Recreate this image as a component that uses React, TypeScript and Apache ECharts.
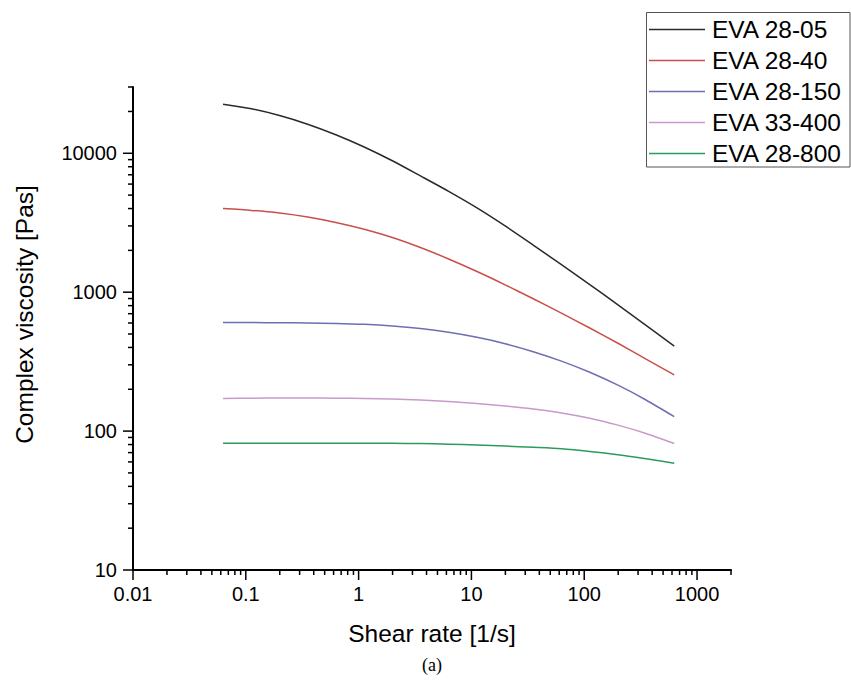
import React, { useEffect, useRef } from "react";
import * as echarts from "echarts";

const shearRates = [0.0628, 0.112, 0.199, 0.353, 0.628, 1.12, 1.99, 3.53, 6.28, 11.2, 19.9, 35.3, 62.8, 112, 199, 353, 628];
const eva2805 = [22500, 20900, 18700, 16200, 13600, 11100, 8830, 6870, 5320, 4046, 3000, 2185, 1580, 1134, 810, 577, 409];
const eva2840 = [4000, 3880, 3710, 3475, 3177, 2838, 2477, 2097, 1734, 1409, 1130, 897, 706, 552, 429, 330, 254];
const eva28150 = [604, 604, 603, 600, 596, 587, 571, 547, 514, 473, 426, 373, 319, 265, 214, 167.5, 127];
const eva33400 = [172, 172.6, 173, 173, 172.6, 171.8, 170.2, 167.5, 163.3, 158.1, 151.7, 144.2, 135.2, 123.9, 110.4, 96.2, 81.5];
const eva28800 = [81.7, 81.7, 81.7, 81.8, 81.8, 81.8, 81.7, 81.3, 80.5, 79.4, 78.0, 76.4, 74.6, 71.4, 67.6, 63.2, 58.6];

const seriesNames = ["EVA 28-05", "EVA 28-40", "EVA 28-150", "EVA 33-400", "EVA 28-800"];
const seriesColors = ["#2a2a2a", "#c9504a", "#6e6eb2", "#c99ac9", "#2f9a5a"];

const xMajorTicks = [0.01, 0.1, 1, 10, 100, 1000];
const xMinorTicks = [
  0.02, 0.03, 0.04, 0.05, 0.06, 0.07, 0.08, 0.09,
  0.2, 0.3, 0.4, 0.5, 0.6, 0.7, 0.8, 0.9,
  2, 3, 4, 5, 6, 7, 8, 9,
  20, 30, 40, 50, 60, 70, 80, 90,
  200, 300, 400, 500, 600, 700, 800, 900,
  2000,
];
const yMajorTicks = [10, 100, 1000, 10000];
const yMinorTicks = [
  20, 30, 40, 50, 60, 70, 80, 90,
  200, 300, 400, 500, 600, 700, 800, 900,
  2000, 3000, 4000, 5000, 6000, 7000, 8000, 9000,
  20000, 30000,
];

const X_MIN = 0.01;
const X_MAX = 2000;
const Y_MIN = 10;
const Y_MAX = 30000;

const MAJOR_LEN = 10;
const MINOR_LEN = 5;

const FONT = "'Liberation Sans', Arial, Helvetica, sans-serif";

const fmt = (v: number) => String(+Number(v).toPrecision(6));

export default function App() {
  const ref = useRef<HTMLDivElement>(null);

  useEffect(() => {
    document.body.style.margin = "0";
    if (!ref.current) return;
    const chart = echarts.init(ref.current, null, { renderer: "svg" });
    const allSeries = [eva2805, eva2840, eva28150, eva33400, eva28800];

    const axisLine = { show: true, lineStyle: { color: "#000", width: 2 } };

    const xTickData = [
      ...xMajorTicks.map((v) => [v, Y_MIN, MAJOR_LEN]),
      ...xMinorTicks.map((v) => [v, Y_MIN, MINOR_LEN]),
    ];
    const yTickData = [
      ...yMajorTicks.map((v) => [X_MIN, v, MAJOR_LEN]),
      ...yMinorTicks.map((v) => [X_MIN, v, MINOR_LEN]),
    ];

    const lineSeries = seriesNames.map((name, i) => ({
      name,
      type: "line",
      smooth: 0.25,
      symbol: "none",
      showSymbol: false,
      lineStyle: { color: seriesColors[i], width: 1.5 },
      itemStyle: { color: seriesColors[i] },
      data: shearRates.map((x, j) => [x, allSeries[i][j]]),
      z: 3,
    }));

    const tickSeries = [
      {
        name: "xTicks",
        type: "custom",
        silent: true,
        clip: false,
        z: 4,
        data: xTickData,
        renderItem: (_params: any, api: any) => {
          const p = api.coord([api.value(0), api.value(1)]);
          const len = api.value(2);
          return {
            type: "line",
            shape: { x1: p[0], y1: p[1], x2: p[0], y2: p[1] + len },
            style: { stroke: "#000", lineWidth: 1.5 },
          };
        },
      },
      {
        name: "yTicks",
        type: "custom",
        silent: true,
        clip: false,
        z: 4,
        data: yTickData,
        renderItem: (_params: any, api: any) => {
          const p = api.coord([api.value(0), api.value(1)]);
          const len = api.value(2);
          return {
            type: "line",
            shape: { x1: p[0] - len, y1: p[1], x2: p[0], y2: p[1] },
            style: { stroke: "#000", lineWidth: 1.5 },
          };
        },
      },
    ];

    chart.setOption({
      animation: false,
      backgroundColor: "#fff",
      textStyle: { fontFamily: FONT },
      grid: { left: 133, right: 120, top: 87, bottom: 113, containLabel: false, outerBoundsMode: "none" },
      legend: {
        orient: "vertical",
        left: 646,
        top: 12,
        padding: [5, 9, 5, 3],
        itemGap: 6,
        itemWidth: 56,
        itemHeight: 1.5,
        icon: "rect",
        borderWidth: 0,
        textStyle: { fontFamily: FONT, fontSize: 24.5, color: "#000", padding: [0, 0, 0, 2] },
        data: seriesNames,
      },
      xAxis: {
        type: "log",
        logBase: 10,
        min: X_MIN,
        max: X_MAX,
        name: "Shear rate [1/s]",
        nameLocation: "middle",
        nameGap: 51,
        nameTextStyle: { fontFamily: FONT, fontSize: 24.5, color: "#000" },
        axisLine,
        axisTick: { show: false },
        axisLabel: { show: true, customValues: xMajorTicks, margin: 14, fontSize: 20, color: "#000", fontFamily: FONT, formatter: fmt },
        splitLine: { show: false },
        minorTick: { show: false },
      },
      yAxis: {
        type: "log",
        logBase: 10,
        min: Y_MIN,
        max: Y_MAX,
        name: "Complex viscosity [Pas]",
        nameLocation: "middle",
        nameGap: 96,
        nameTextStyle: { fontFamily: FONT, fontSize: 24.5, color: "#000", padding: [0, 0, 0, 28] },
        axisLine,
        axisTick: { show: false },
        axisLabel: { show: true, customValues: yMajorTicks, margin: 16, fontSize: 20, color: "#000", fontFamily: FONT, formatter: fmt },
        splitLine: { show: false },
        minorTick: { show: false },
      },
      series: [...lineSeries, ...tickSeries],
      graphic: [
        {
          type: "rect",
          z: 0,
          silent: true,
          shape: { x: 646.5, y: 12.5, width: 203.5, height: 154.5 },
          style: { fill: "#fff", stroke: "#555", lineWidth: 1 },
        },
        {
          type: "text",
          x: 432,
          y: 665,
          style: {
            text: "(a)",
            textAlign: "center",
            textVerticalAlign: "middle",
            fontFamily: "'Liberation Serif', 'Times New Roman', serif",
            fontSize: 18,
            fill: "#000",
          },
        },
      ],
    });

    return () => chart.dispose();
  }, []);

  return <div ref={ref} style={{ width: 851, height: 683 }} />;
}
